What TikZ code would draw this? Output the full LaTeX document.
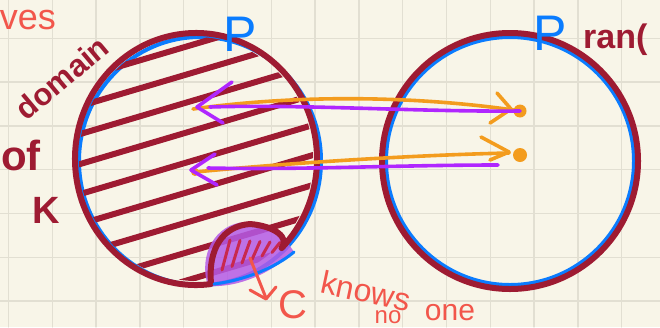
\documentclass[tikz,border=0pt]{standalone}
\usepackage{fontspec}
\setmainfont{Liberation Sans}
\definecolor{paper}{HTML}{F8F5E8}
\definecolor{gridc}{HTML}{E2DFD2}
\definecolor{dred}{HTML}{9E1B32}
\definecolor{bluec}{HTML}{0A7CFF}
\definecolor{orangec}{HTML}{F39C1E}
\definecolor{purplec}{HTML}{B026FF}
\definecolor{redtext}{HTML}{F2564B}
\definecolor{blobfill}{HTML}{B45AE6}
\definecolor{blobhatch}{HTML}{C8284E}
\tikzset{
  redline/.style={draw=dred, line width=6pt},
  blueline/.style={draw=bluec, line width=4pt},
  hatch/.style={draw=dred, line width=6pt},
  orangeline/.style={draw=orangec, line width=3.6pt},
  purpleline/.style={draw=purplec, line width=3.6pt},
  lbl/.style={inner sep=0pt, font=\bfseries},
}
\begin{document}
\begin{tikzpicture}[x=1pt,y=-1pt,line cap=round,line join=round]
\useasboundingbox (0,0) rectangle (660,327);
\fill[paper] (0,0) rectangle (660,327);
\foreach \i in {0,...,14} \draw[gridc,line width=1.3pt] ({8.5+43.8*\i},0) -- ++(0,327);
\foreach \j in {1,...,7} \draw[gridc,line width=1.3pt] (0,{-5.5+43.8*\j}) -- ++(660,0);

% left circle
\draw[blueline] (200,161) ellipse [x radius=121, y radius=124];
\begin{scope}
  \clip (196,159) ellipse [x radius=117, y radius=122];
  \foreach \c in {44,72,100,130,160,190,220,250,278}
    \draw[hatch] (60,{\c+40}) -- (330,{\c-40});
\end{scope}
% blob
\fill[blobfill,opacity=0.85] (208,286) .. controls (198,255) and (215,224) .. (245,222)
   .. controls (268,222) and (284,236) .. (294,252)
   .. controls (272,272) and (240,288) .. (208,286) -- cycle;
\foreach \a in {222,232,242,252,262,272}
  \draw[blobhatch,line width=3pt] (\a,{270-(\a-222)*0.35}) -- ({\a+8},{240+(\a-222)*0.05});
\draw[redline] ([shift={(83:121 and 126)}]196,159)
   arc[start angle=83, end angle=405, x radius=121, y radius=126]
   .. controls (290,238) and (275,226) .. (250,224)
   .. controls (222,226) and (208,250) .. (211,283);
\draw[bluec,line width=3pt] (214,284) .. controls (245,280) and (275,268) .. (294,252);

% right circle
\draw[blueline] (510,161) ellipse [x radius=124, y radius=124];
\draw[redline] (510,161) ellipse [x radius=128, y radius=128];

% connectors
\coordinate (la) at (193,109);
\coordinate (ra) at (520,111);
\coordinate (lb) at (195,172);
\coordinate (rb) at (520,155);
\coordinate (pb) at (498,165);
\coordinate (pl) at (210,107);
\coordinate (pl2) at (208,168);
\draw[orangeline] (la) .. controls (300,94) and (420,96) .. (ra);
\draw[orangeline] (497,93) -- (511,109) -- (490,123);
\fill[orangec] (ra) circle (6.5);
\draw[purpleline] (ra) .. controls (420,112) and (300,104) .. (pl);
\draw[purpleline] (232,82) -- (197,107) -- (223,123);
\fill[orangec] (lb) circle (4);
\draw[orangeline] (lb) .. controls (300,162) and (420,155) .. (509,153);
\draw[orangeline] (481,137) -- (509,152) -- (490,160);
\fill[orangec] (rb) circle (7);
\draw[purpleline] (pb) .. controls (400,165) and (300,170) .. (pl2);
\draw[purpleline] (215,154) -- (191,170) -- (217,185);

% arrow to C
\coordinate (bs) at (250,258);
\coordinate (be) at (266,298);
\draw[redtext,line width=3pt] (bs) -- (be);
\draw[redtext,line width=3pt] (250,290) -- (266,299) -- (276,287);

% texts
\node[lbl,text=redtext,anchor=east,font=\fontsize{36}{36}\selectfont] (ves) at (56,20) {ves};
\node[lbl,text=dred,rotate=40,font=\fontsize{31}{31}\selectfont\bfseries] (dom) at (62,78) {domain};
\node[lbl,text=dred,anchor=west,font=\fontsize{42}{42}\selectfont\bfseries] (of) at (1,155) {of};
\node[lbl,text=dred,font=\fontsize{38}{38}\selectfont\bfseries] (k) at (46,210) {K};
\node[lbl,text=bluec,font=\fontsize{50}{50}\selectfont] (p1) at (240,34) {P};
\node[lbl,text=bluec,font=\fontsize{50}{50}\selectfont] (p2) at (550,33) {P};
\node[lbl,text=dred,anchor=west,font=\fontsize{34}{34}\selectfont\bfseries] (ran) at (583,40) {ran(};
\node[lbl,text=redtext,font=\fontsize{40}{40}\selectfont] (c) at (293,305) {C};
\node[lbl,text=redtext,rotate=-12,font=\fontsize{32}{32}\selectfont] (kn) at (366,291) {knows};
\node[lbl,text=redtext,font=\fontsize{24}{24}\selectfont] (no) at (388,317) {no};
\node[lbl,text=redtext,font=\fontsize{30}{30}\selectfont] (one) at (450,313) {one};
\end{tikzpicture}
\end{document}
